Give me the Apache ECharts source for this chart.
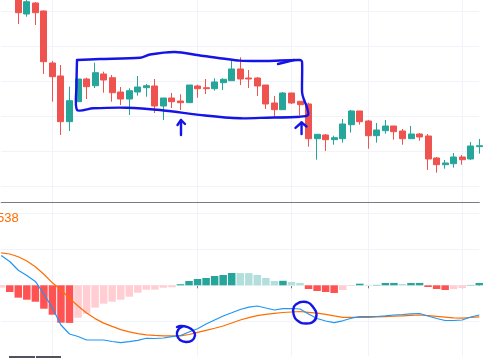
<!DOCTYPE html>
<html><head><meta charset="utf-8">
<script src="https://cdn.jsdelivr.net/npm/echarts@6/dist/echarts.min.js"></script>
<style>html,body{margin:0;padding:0;background:#fff}#c{width:483px;height:358px}</style>
</head><body><div id="c"></div>
<script>
// ---- data ----
const categories = Array.from({length: 57}, (_, i) => 'Bar ' + (i + 1));
const opens  = [150.5,148.2,146.5,139.23,142.37,140.09,125.23,121.52,108.46,114.17,120.66,118.74,122.09,121.03,116.94,114.94,116.94,118.17,118.66,112.94,115.23,114.37,113.89,118.66,118.17,117.89,119.60,120.17,123.52,120.94,120.94,118.94,113.80,111.89,116.66,114.29,113.52,103.60,104.66,103.32,103.60,107.60,111.52,108.66,104.46,105.89,107.23,105.80,103.60,104.94,104.37,98.09,96.17,96.46,98.37,97.80,101.32];
const closes = [148.2,146.5,139.60,142.74,139.60,125.60,121.32,108.46,114.46,120.66,118.46,122.46,120.37,116.74,114.94,117.32,118.37,118.74,112.94,115.23,114.17,113.89,118.94,117.89,117.89,119.80,120.57,123.52,120.66,120.66,118.66,113.52,111.89,116.66,113.80,113.32,103.60,104.86,103.32,103.89,107.80,111.52,108.46,104.46,106.09,107.23,105.60,103.60,104.94,104.09,97.80,96.17,96.66,98.37,97.60,101.52,101.60];
const lows   = [144.8,144.2,136.37,138.46,136.09,122.09,114.17,104.66,105.80,114.17,114.94,118.09,116.74,114.17,113.23,110.37,115.90,115.60,110.94,108.94,112.37,111.80,113.89,115.32,116.37,117.32,117.52,120.17,118.94,118.09,115.80,112.09,109.72,111.89,113.52,110.29,101.32,97.60,100.09,101.89,102.46,105.32,107.60,100.74,102.46,105.03,103.32,101.89,103.60,103.03,94.66,93.89,95.03,95.32,96.17,97.52,99.32];
const highs  = [152.0,149.5,147.5,144.5,142.6,140.2,125.80,124.66,118.46,120.66,121.03,125.32,122.74,121.80,118.37,118.00,121.52,119.23,120.66,115.23,116.66,116.29,118.94,119.03,120.66,120.86,120.86,125.89,126.86,123.23,121.23,118.94,115.80,116.94,116.66,114.29,113.89,104.86,104.94,104.46,109.23,111.80,111.52,108.94,108.09,108.94,107.23,106.37,107.23,105.23,104.94,98.37,97.52,99.52,98.94,102.66,103.52];
const macdLine   = [0.828,0.661,0.417,0.272,0.108,-0.242,-0.631,-1.103,-1.353,-1.422,-1.519,-1.519,-1.519,-1.561,-1.594,-1.567,-1.528,-1.472,-1.478,-1.464,-1.428,-1.394,-1.297,-1.206,-1.075,-0.964,-0.853,-0.764,-0.672,-0.608,-0.575,-0.631,-0.686,-0.65,-0.644,-0.658,-0.797,-0.922,-0.992,-1.039,-0.986,-0.914,-0.872,-0.872,-0.867,-0.847,-0.825,-0.811,-0.792,-0.783,-0.853,-0.922,-0.978,-0.978,-0.964,-0.881,-0.825];
const signalLine = [0.903,0.869,0.794,0.675,0.514,0.308,0.069,-0.131,-0.361,-0.575,-0.769,-0.925,-1.05,-1.142,-1.231,-1.292,-1.342,-1.378,-1.392,-1.403,-1.403,-1.403,-1.367,-1.306,-1.25,-1.194,-1.131,-1.047,-0.964,-0.897,-0.842,-0.808,-0.781,-0.756,-0.742,-0.728,-0.75,-0.775,-0.806,-0.85,-0.889,-0.889,-0.889,-0.889,-0.881,-0.869,-0.858,-0.847,-0.836,-0.825,-0.844,-0.864,-0.883,-0.903,-0.914,-0.894,-0.878];
const histogram  = [-0.064,-0.186,-0.344,-0.40,-0.456,-0.65,-0.817,-1.04,-1.045,-0.90,-0.79,-0.62,-0.51,-0.456,-0.40,-0.317,-0.206,-0.122,-0.12,-0.067,-0.055,0.03,0.12,0.175,0.203,0.258,0.286,0.342,0.34,0.338,0.286,0.203,0.12,0.125,0.092,0.064,-0.103,-0.158,-0.186,-0.214,-0.13,-0.02,0.045,0.01,0.012,0.064,0.066,0.036,0.064,0.066,-0.047,-0.103,-0.13,-0.103,-0.075,0.01,0.064];
const priceGridLevels = [140,130,120,110,100,90];
const macdGridLevels = [2,1,0,-1];
const dividerIndices = [6,23,34,43,54];
const legendFragment = '538';
// annotations in data coordinates: [bar index, price] / [bar index, macd value]
const annotBox = [[8.88,126.09],[11.57,126.37],[16.26,126.74],[17.43,127.66],[20.36,128.37],[23.29,127.37],[27.97,125.9],[31.13,125.80],[35.00,126.09],[35.24,125.52],[35.24,116.94],[35.41,115.09],[35.79,112.74],[35.94,110.37],[35.00,109.89],[31.13,109.60],[27.97,109.43],[23.87,110.23],[18.60,111.80],[14.74,112.46],[10.75,112.29],[8.88,111.80],[8.82,118.94],[8.88,126.09]];
const annotBoxHead = [[32.42,124.94],[34.30,126.09]];
const annotArrow1 = [[21.06,104.66],[21.06,108.94]];
const annotArrow1Head = [[20.65,107.52],[21.06,108.94],[21.53,107.80]];
const annotArrow2 = [[35.18,104.94],[35.18,108.23]];
const annotArrow2Head = [[34.47,106.66],[35.18,108.23],[35.76,107.09]];
const annotCircle1 = [[20.59,-1.158],[21.06,-1.131],[21.76,-1.158],[22.47,-1.256],[22.70,-1.394],[22.35,-1.533],[21.65,-1.575],[20.94,-1.519],[20.59,-1.381],[20.71,-1.242],[21.18,-1.158]];
const annotCircle2 = [[34.65,-0.519],[35.12,-0.464],[35.94,-0.478],[36.52,-0.603],[36.93,-0.797],[36.64,-0.992],[35.70,-1.061],[34.77,-0.992],[34.24,-0.797],[34.30,-0.589],[34.88,-0.478]];

// ---- chart ----
const GREEN = '#26a69a', RED = '#ef5350';
const chart = echarts.init(document.getElementById('c'), null, {renderer: 'canvas'});
const ohlc = opens.map((o, i) => [o, closes[i], lows[i], highs[i]]);
function histColor(i) {
  const v = histogram[i], p = i > 0 ? histogram[i - 1] : null;
  if (v >= 0) return (p === null || v >= p) ? '#26A69A' : '#B2DFDB';
  return (p !== null && v <= p) ? '#FF5252' : '#FFCDD2';
}
const gridLine = {color: '#f0f3fa', width: 1, type: 'solid'};
const isDivider = (i) => dividerIndices.indexOf(i) >= 0;
const mk = (levels) => ({silent: true, symbol: ['none', 'none'], label: {show: false}, lineStyle: gridLine, z: 1, animation: false, data: levels.map(v => ({yAxis: v}))});

chart.setOption({
  animation: false,
  backgroundColor: '#ffffff',
  grid: [
    {left: 1.2, right: 3.7, top: 0, height: 202},
    {left: 1.2, right: 3.7, top: 202, height: 154}
  ],
  xAxis: [
    {gridIndex: 0, type: 'category', data: categories, boundaryGap: false,
     axisLine: {show: true, lineStyle: {color: '#787b86', width: 1}}, axisTick: {show: false}, axisLabel: {show: false},
     splitLine: {show: true, interval: isDivider, lineStyle: gridLine}},
    {gridIndex: 1, type: 'category', data: categories, boundaryGap: false,
     axisLine: {show: true, lineStyle: {color: '#787b86', width: 1}},
     axisTick: {show: true, interval: isDivider, length: 3, lineStyle: {color: '#787b86'}}, axisLabel: {show: false},
     splitLine: {show: true, interval: isDivider, lineStyle: gridLine}},
    {gridIndex: 0, type: 'value', min: 0, max: categories.length - 1, show: false},
    {gridIndex: 1, type: 'value', min: 0, max: categories.length - 1, show: false}
  ],
  yAxis: [
    {gridIndex: 0, type: 'value', min: 85.51, max: 143.23, show: false, splitLine: {show: false}},
    {gridIndex: 1, type: 'value', min: -1.964, max: 2.314, show: false, splitLine: {show: false}}
  ],
  series: [
    {type: 'candlestick', xAxisIndex: 0, yAxisIndex: 0, data: ohlc, barWidth: 6.5, z: 3,
     itemStyle: {color: GREEN, color0: RED, borderColor: GREEN, borderColor0: RED, borderWidth: 1},
     markLine: mk(priceGridLevels)},
    {type: 'bar', xAxisIndex: 1, yAxisIndex: 1, barWidth: 7.5, z: 3,
     data: histogram.map((v, i) => ({value: v, itemStyle: {color: histColor(i)}})),
     markLine: mk(macdGridLevels)},
    {type: 'line', xAxisIndex: 1, yAxisIndex: 1, data: signalLine, symbol: 'none', z: 4,
     lineStyle: {color: '#FF6D00', width: 1.2}},
    {type: 'line', xAxisIndex: 1, yAxisIndex: 1, data: macdLine, symbol: 'none', z: 5,
     lineStyle: {color: '#2196F3', width: 1.2}}
  ],
  graphic: [
    {type: 'text', id: 'legend', left: -3, top: 212, z: 50,
     style: {text: legendFragment, fill: '#FF6D00', font: '13px "Liberation Sans", Arial, sans-serif'}},
    {type: 'rect', id: 'seg1', shape: {x: 9, y: 356, width: 26, height: 2}, style: {fill: '#50535e'}, z: 50},
    {type: 'rect', id: 'seg2', shape: {x: 36, y: 356, width: 25, height: 2}, style: {fill: '#50535e'}, z: 50}
  ]
});

function px(pts, xi, yi) { return pts.map(p => chart.convertToPixel({xAxisIndex: xi, yAxisIndex: yi}, p)); }
const pen = {stroke: '#1414e6', lineWidth: 2.4, fill: null, lineCap: 'round', lineJoin: 'round'};
const annots = [
  [annotBox, 0, 0.25], [annotBoxHead, 0, 0], [annotArrow1, 0, 0], [annotArrow1Head, 0, 0],
  [annotArrow2, 0, 0], [annotArrow2Head, 0, 0], [annotCircle1, 1, 0.5], [annotCircle2, 1, 0.5]
];
chart.setOption({
  graphic: annots.map((a, i) => ({
    type: 'polyline', id: 'an' + i, z: 100,
    shape: {points: px(a[0], a[1] === 0 ? 2 : 3, a[1]), smooth: a[2]},
    style: pen
  }))
});
</script></body></html>
